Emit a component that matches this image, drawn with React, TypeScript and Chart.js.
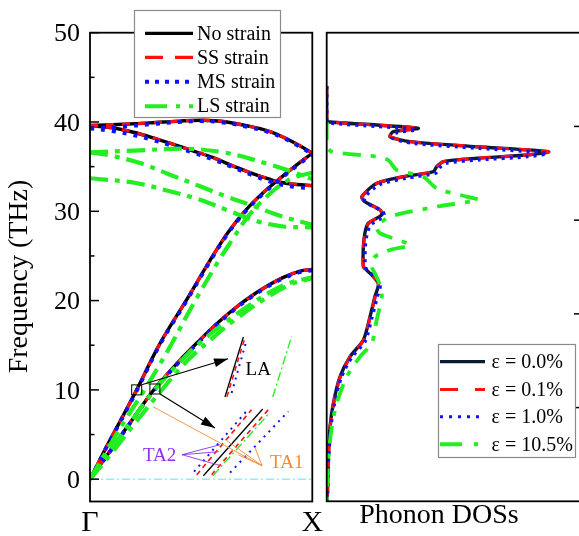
import React, { useEffect, useRef } from "react";
import { Chart, registerables } from "chart.js";

Chart.register(...registerables);

const SERIF = "'Liberation Serif','Times New Roman',Times,serif";
type P = [number, number];

// ---------- Left panel: dispersion along Γ → X (x = path fraction, y = THz)
const freqTicks = [0, 10, 20, 30, 40, 50];
const freqMinorTicks = [5, 15, 25, 35, 45];
const kLabels = ["Γ", "X"];
const kPositions = [0, 1];
const dispersionLegend = ["No strain", "SS strain", "MS strain", "LS strain"];
const freqTitle = "Frequency (THz)";

const noLA: P[] = [[0, 0], [0.04, 1.95], [0.08, 3.9], [0.14, 6.7], [0.21, 10], [0.315, 15.2], [0.435, 20.1], [0.54, 24.5], [0.62, 27.6], [0.7, 30.1], [0.78, 32.1], [0.86, 33.8], [0.93, 35.2], [1, 36.5]];
const noTA: P[] = [[0, 0], [0.1, 3.5], [0.2, 7.0], [0.29, 10.1], [0.4, 13.2], [0.495, 15.6], [0.57, 17.4], [0.645, 19.0], [0.72, 20.4], [0.795, 21.6], [0.87, 22.6], [0.945, 23.3], [1, 23.5]];
const noOptU: P[] = [[0, 39.6], [0.15, 39.75], [0.27, 39.9], [0.4, 40.1], [0.5, 40.2], [0.6, 40.05], [0.72, 39.5], [0.8, 39.0], [0.87, 38.3], [0.94, 37.4], [1, 36.5]];
const noOptL: P[] = [[0, 39.6], [0.1, 39.35], [0.195, 38.85], [0.28, 38.25], [0.375, 37.5], [0.46, 36.8], [0.555, 36.0], [0.65, 35.0], [0.735, 34.2], [0.8, 33.65], [0.855, 33.25], [0.93, 33.0], [1, 32.9]];

const ssLA: P[] = [[0, 0], [0.04, 1.95], [0.08, 3.9], [0.14, 6.7], [0.21, 10], [0.315, 15.2], [0.435, 20.1], [0.54, 24.5], [0.62, 27.6], [0.7, 30.1], [0.78, 32.1], [0.86, 33.8], [0.93, 35.2], [1, 36.5]];
const ssTA: P[] = [[0, 0], [0.1, 3.5], [0.2, 7.0], [0.29, 10.1], [0.4, 13.2], [0.495, 15.6], [0.57, 17.4], [0.645, 19.0], [0.72, 20.4], [0.795, 21.6], [0.87, 22.6], [0.945, 23.3], [1, 23.5]];
const ssOptU: P[] = [[0, 39.6], [0.15, 39.75], [0.27, 39.9], [0.4, 40.1], [0.5, 40.2], [0.6, 40.05], [0.72, 39.5], [0.8, 39.0], [0.87, 38.3], [0.94, 37.4], [1, 36.5]];
const ssOptL: P[] = [[0, 39.6], [0.1, 39.35], [0.195, 38.85], [0.28, 38.25], [0.375, 37.5], [0.46, 36.8], [0.555, 36.0], [0.65, 35.0], [0.735, 34.2], [0.8, 33.65], [0.855, 33.25], [0.93, 33.0], [1, 32.85]];

const msLA: P[] = [[0, 0], [0.04, 1.9], [0.08, 3.85], [0.14, 6.6], [0.21, 9.9], [0.315, 15.1], [0.435, 20.0], [0.54, 24.4], [0.62, 27.5], [0.7, 30.0], [0.78, 32.0], [0.86, 33.7], [0.93, 35.1], [1, 36.4]];
const msTA: P[] = [[0, 0], [0.1, 3.45], [0.2, 6.95], [0.29, 10.0], [0.4, 13.1], [0.495, 15.5], [0.57, 17.3], [0.645, 18.9], [0.72, 20.3], [0.795, 21.5], [0.87, 22.5], [0.945, 23.2], [1, 23.4]];
const msOptU: P[] = [[0, 39.3], [0.15, 39.5], [0.27, 39.75], [0.4, 40.0], [0.5, 40.1], [0.6, 39.95], [0.72, 39.4], [0.8, 38.9], [0.87, 38.2], [0.94, 37.3], [1, 36.4]];
const msOptL: P[] = [[0, 39.3], [0.1, 39.0], [0.195, 38.55], [0.28, 38.0], [0.375, 37.3], [0.46, 36.6], [0.555, 35.8], [0.65, 34.85], [0.735, 34.0], [0.8, 33.4], [0.855, 33.0], [0.93, 32.7], [1, 32.6]];

const lsLA: P[] = [[0, 0], [0.08, 3.4], [0.16, 6.7], [0.24, 9.8], [0.35, 14.4], [0.46, 19.4], [0.577, 24.4], [0.645, 27.0], [0.71, 29.4], [0.78, 31.3], [0.86, 33.0], [0.93, 33.9], [1, 34.3]];
const lsTA1: P[] = [[0, 0], [0.1, 3.5], [0.2, 7.0], [0.29, 10.0], [0.4, 13.0], [0.5, 15.4], [0.6, 17.4], [0.7, 19.2], [0.8, 20.8], [0.9, 22.0], [1, 22.6]];
const lsTA2: P[] = [[0, 0], [0.1, 3.0], [0.2, 6.2], [0.33, 10.2], [0.435, 13.2], [0.56, 16.0], [0.66, 18.0], [0.78, 20.1], [0.9, 21.8], [1, 22.5]];
const lsOpt1: P[] = [[0, 36.6], [0.2, 36.8], [0.44, 37.0], [0.6, 36.6], [0.72, 35.9], [0.8, 35.3], [0.9, 34.5], [1, 33.6]];
const lsOpt2: P[] = [[0, 36.6], [0.1, 36.2], [0.225, 35.4], [0.36, 34.1], [0.495, 32.8], [0.62, 31.6], [0.735, 30.6], [0.855, 29.5], [1, 28.5]];
const lsOpt3: P[] = [[0, 33.7], [0.2, 33.2], [0.35, 32.3], [0.495, 31.3], [0.62, 30.1], [0.75, 28.9], [0.87, 28.3], [1, 28.2]];
const zeroLine: P[] = [[0, 0], [1, 0]];

// zoomed insets (annotation segments in data coordinates)
const insetLABlack: P[] = [[0.607, 9.2], [0.69, 15.92]];
const insetLARed: P[] = [[0.616, 9.24], [0.697, 15.85]];
const insetLABlue: P[] = [[0.637, 9.65], [0.705, 15.62]];
const insetLAGreen: P[] = [[0.822, 9.2], [0.907, 15.99]];
const insetTABlack: P[] = [[0.51, 0.39], [0.777, 7.86]];
const insetTARed1: P[] = [[0.48, 0.5], [0.727, 7.78]];
const insetTARed2: P[] = [[0.547, 0.5], [0.802, 7.78]];
const insetTABlue1: P[] = [[0.468, 0.84], [0.702, 7.56]];
const insetTABlue2: P[] = [[0.63, 0.73], [0.892, 7.59]];
const insetTAGreen: P[] = [[0.553, 0.39], [0.8, 7.22]];
const zoomBoxes: P[] = [[0.21, 10.0], [0.292, 10.1]];
const arrowFrom: P[] = [[0.2326, 10.58], [0.315, 9.54]];
const arrowTo: P[] = [[0.621, 13.49], [0.562, 5.73]];
const ta1Origin: P = [0.774, 1.51];
const ta1Targets: P[] = [[0.283, 8.12], [0.742, 3.53], [0.666, 2.74], [0.616, 4.31]];
const ta2Origin: P = [0.414, 2.74];
const ta2Targets: P[] = [[0.585, 3.86], [0.58, 3.08], [0.589, 1.51]];
const insetLabels = ["LA", "TA1", "TA2"];
const insetLabelPos: P[] = [[0.757, 12.26], [0.885, 1.81], [0.313, 2.55]];

// ---------- Right panel: phonon DOS (x = DOS, arb. units; y = THz)
const dosLegend = ["ε = 0.0%", "ε = 0.1%", "ε = 1.0%", "ε = 10.5%"];
const dosTitle = "Phonon DOSs";
const dosRightTicks = [1, 2, 3, 4];

const dos00: P[] = [[0, 44], [0.0, 40.3], [0.006, 40.03], [0.195, 39.66], [0.357, 39.29], [0.26, 38.91], [0.247, 38.35], [0.325, 37.79], [0.585, 37.23], [0.865, 36.67], [0.78, 36.3], [0.585, 35.93], [0.455, 35.55], [0.429, 34.99], [0.416, 34.43], [0.299, 33.87], [0.195, 33.13], [0.137, 31.63], [0.149, 31.07], [0.208, 30.14], [0.215, 29.58], [0.162, 28.65], [0.149, 27.53], [0.143, 26.03], [0.143, 23.78], [0.156, 23.41], [0.201, 21.92], [0.188, 20.42], [0.169, 18.18], [0.143, 15.57], [0.091, 13.7], [0.052, 11.46], [0.026, 8.48], [0.013, 5.86], [0.006, 2.13], [0.003, -1.57], [0, -2.5]];
const dos01: P[] = [[0, 44], [0.0, 40.3], [0.006, 40.03], [0.195, 39.64], [0.355, 39.29], [0.26, 38.9], [0.248, 38.35], [0.327, 37.78], [0.587, 37.22], [0.865, 36.66], [0.78, 36.29], [0.585, 35.92], [0.455, 35.54], [0.43, 34.98], [0.417, 34.42], [0.3, 33.86], [0.196, 33.12], [0.138, 31.62], [0.15, 31.06], [0.209, 30.13], [0.216, 29.57], [0.163, 28.64], [0.15, 27.52], [0.144, 26.02], [0.144, 23.77], [0.157, 23.4], [0.202, 21.91], [0.189, 20.41], [0.17, 18.17], [0.144, 15.56], [0.092, 13.69], [0.053, 11.45], [0.027, 8.47], [0.014, 5.85], [0.006, 2.12], [0.003, -1.57], [0, -2.5]];
const dos10: P[] = [[0, 44], [0.0, 40.2], [0.008, 39.9], [0.2, 39.5], [0.35, 39.15], [0.268, 38.75], [0.256, 38.2], [0.335, 37.62], [0.595, 37.05], [0.86, 36.5], [0.785, 36.12], [0.595, 35.76], [0.465, 35.38], [0.438, 34.84], [0.425, 34.28], [0.31, 33.7], [0.205, 32.96], [0.145, 31.45], [0.158, 30.9], [0.218, 29.98], [0.224, 29.42], [0.172, 28.5], [0.157, 27.4], [0.15, 25.9], [0.151, 23.7], [0.164, 23.3], [0.208, 21.8], [0.196, 20.3], [0.176, 18.05], [0.15, 15.45], [0.097, 13.6], [0.057, 11.4], [0.03, 8.4], [0.016, 5.8], [0.007, 2.1], [0.003, -1.57], [0, -2.5]];
const dos105: P[] = [[0, 40.0], [0, 37.3], [0.02, 36.67], [0.195, 36.11], [0.24, 35.74], [0.273, 34.62], [0.377, 33.87], [0.429, 32.57], [0.546, 31.63], [0.592, 31.26], [0.429, 30.51], [0.247, 29.39], [0.195, 28.27], [0.208, 27.53], [0.325, 26.22], [0.247, 25.66], [0.188, 24.9], [0.176, 23.78], [0.188, 23.04], [0.208, 21.73], [0.215, 20.42], [0.195, 17.81], [0.176, 15.2], [0.13, 13.7], [0.078, 11.46], [0.039, 8.48], [0.02, 5.86], [0.006, 2.13], [0, -2.5]];

// ---------- styles
type Style = { color: string; width: number; dash: number[] };
const GREEN = "#22EE22";
const stNo: Style = { color: "#000000", width: 3.4, dash: [] };
const stSS: Style = { color: "#FF1010", width: 3.2, dash: [8, 8] };
const stMS: Style = { color: "#1010FF", width: 4, dash: [4, 7] };
const stLS: Style = { color: GREEN, width: 4.2, dash: [18, 7, 5, 7] };
const stZero: Style = { color: "#86F2F2", width: 1.5, dash: [8, 3, 2, 3] };
const stInBlack: Style = { color: "#000000", width: 1.3, dash: [] };
const stInRed: Style = { color: "#FF1010", width: 1.6, dash: [5, 4] };
const stInBlue: Style = { color: "#1010FF", width: 2, dash: [2, 5] };
const stInGreen: Style = { color: GREEN, width: 1.3, dash: [9, 3, 2, 3] };
const dispLegendStyles: Style[] = [
  { color: "#000000", width: 3.2, dash: [] },
  { color: "#FF1010", width: 3.2, dash: [18, 12] },
  { color: "#1010FF", width: 4, dash: [4, 6] },
  { color: GREEN, width: 4, dash: [22, 9, 4, 9] },
];
const stD00: Style = { color: "#0B1B36", width: 3.4, dash: [] };
const stD01: Style = { color: "#FF1010", width: 3.2, dash: [12, 10] };
const stD10: Style = { color: "#1010FF", width: 3.5, dash: [3, 5] };
const stD105: Style = { color: GREEN, width: 3.8, dash: [18, 10, 5, 10] };
const dosLegendStyles: Style[] = [
  { color: "#0B1B36", width: 3.2, dash: [] },
  { color: "#FF1010", width: 3.2, dash: [18, 17] },
  { color: "#1010FF", width: 3, dash: [3, 6] },
  { color: GREEN, width: 4, dash: [22, 12, 4, 12] },
];
const ORANGE = "#F28C3A";
const PURPLE = "#9030F0";

const ds = (label: string, data: P[], st: Style, order: number, tension = 0.35) => ({
  label,
  data: data.map(([x, y]) => ({ x, y })),
  borderColor: st.color,
  backgroundColor: st.color,
  borderWidth: st.width,
  borderDash: st.dash,
  pointRadius: 0,
  pointHoverRadius: 0,
  showLine: true,
  fill: false,
  tension,
  order,
});

function drawArrowHead(ctx: CanvasRenderingContext2D, x0: number, y0: number, x1: number, y1: number) {
  const ang = Math.atan2(y1 - y0, x1 - x0);
  const L = 14, W = 4.5;
  ctx.beginPath();
  ctx.moveTo(x1, y1);
  ctx.lineTo(x1 - L * Math.cos(ang) + W * Math.sin(ang), y1 - L * Math.sin(ang) - W * Math.cos(ang));
  ctx.lineTo(x1 - L * Math.cos(ang) - W * Math.sin(ang), y1 - L * Math.sin(ang) + W * Math.cos(ang));
  ctx.closePath();
  ctx.fill();
}

function drawLegend(
  ctx: CanvasRenderingContext2D,
  box: [number, number, number, number],
  labels: string[],
  styles: Style[],
  rowsY: number[],
  lineX: [number, number],
  textX: number,
  font: string
) {
  ctx.save();
  ctx.setLineDash([]);
  ctx.fillStyle = "#ffffff";
  ctx.fillRect(box[0], box[1], box[2], box[3]);
  ctx.strokeStyle = "#8a8a8a";
  ctx.lineWidth = 1.2;
  ctx.strokeRect(box[0], box[1], box[2], box[3]);
  labels.forEach((lab, i) => {
    const st = styles[i];
    ctx.strokeStyle = st.color;
    ctx.lineWidth = st.width;
    ctx.setLineDash(st.dash);
    ctx.beginPath();
    ctx.moveTo(lineX[0], rowsY[i]);
    ctx.lineTo(lineX[1], rowsY[i]);
    ctx.stroke();
    ctx.setLineDash([]);
    ctx.fillStyle = "#000";
    ctx.font = font;
    ctx.textAlign = "left";
    ctx.textBaseline = "middle";
    ctx.fillText(lab, textX, rowsY[i] + 1);
  });
  ctx.restore();
}

const leftDecor = {
  id: "leftDecor",
  afterDraw(chart: any) {
    const { ctx, chartArea: a, scales } = chart;
    const X = (v: number) => scales.x.getPixelForValue(v);
    const Y = (v: number) => scales.y.getPixelForValue(v);
    ctx.save();
    ctx.setLineDash([]);
    ctx.strokeStyle = "#000";
    ctx.lineWidth = 1;
    zoomBoxes.forEach(([x, y]) => ctx.strokeRect(X(x) - 5, Y(y) - 5, 10, 10));
    ctx.fillStyle = "#000";
    ctx.lineWidth = 1.2;
    arrowFrom.forEach((f, i) => {
      const t = arrowTo[i];
      ctx.beginPath();
      ctx.moveTo(X(f[0]), Y(f[1]));
      ctx.lineTo(X(t[0]), Y(t[1]));
      ctx.stroke();
      drawArrowHead(ctx, X(f[0]), Y(f[1]), X(t[0]), Y(t[1]));
    });
    ctx.lineWidth = 0.9;
    ctx.strokeStyle = ORANGE;
    ta1Targets.forEach((t) => {
      ctx.beginPath();
      ctx.moveTo(X(ta1Origin[0]), Y(ta1Origin[1]));
      ctx.lineTo(X(t[0]), Y(t[1]));
      ctx.stroke();
    });
    ctx.strokeStyle = PURPLE;
    ta2Targets.forEach((t) => {
      ctx.beginPath();
      ctx.moveTo(X(ta2Origin[0]), Y(ta2Origin[1]));
      ctx.lineTo(X(t[0]), Y(t[1]));
      ctx.stroke();
    });
    const labColors = ["#000", ORANGE, PURPLE];
    ctx.font = `19px ${SERIF}`;
    ctx.textAlign = "center";
    ctx.textBaseline = "middle";
    insetLabels.forEach((t, i) => {
      ctx.fillStyle = labColors[i];
      ctx.fillText(t, X(insetLabelPos[i][0]), Y(insetLabelPos[i][1]));
    });

    ctx.strokeStyle = "#000";
    ctx.lineWidth = 1.8;
    ctx.strokeRect(a.left, a.top, a.right - a.left, a.bottom - a.top);
    ctx.lineWidth = 1.5;
    freqTicks.forEach((v) => {
      ctx.beginPath();
      ctx.moveTo(a.left, Y(v));
      ctx.lineTo(a.left + 9, Y(v));
      ctx.stroke();
    });
    freqMinorTicks.forEach((v) => {
      ctx.beginPath();
      ctx.moveTo(a.left, Y(v));
      ctx.lineTo(a.left + 4.5, Y(v));
      ctx.stroke();
    });
    ctx.fillStyle = "#000";
    ctx.font = `26px ${SERIF}`;
    ctx.textAlign = "right";
    ctx.textBaseline = "alphabetic";
    freqTicks.forEach((v) => ctx.fillText(String(v), a.left - 10, Y(v) + 8.7));
    ctx.font = `30px ${SERIF}`;
    ctx.textAlign = "center";
    kLabels.forEach((t, i) => ctx.fillText(t, X(kPositions[i]), 531));
    ctx.save();
    ctx.translate(27, 276.5);
    ctx.rotate(-Math.PI / 2);
    ctx.font = `28px ${SERIF}`;
    ctx.textAlign = "center";
    ctx.textBaseline = "alphabetic";
    ctx.fillText(freqTitle, 0, 0);
    ctx.restore();
    drawLegend(ctx, [134.5, 10.5, 146, 107], dispersionLegend, dispLegendStyles, [33.3, 57.3, 81.7, 106.2], [145, 193], 197, `20px ${SERIF}`);
    ctx.restore();
  },
};

const rightDecor = {
  id: "rightDecor",
  afterDraw(chart: any) {
    const { ctx, chartArea: a, scales } = chart;
    ctx.save();
    ctx.setLineDash([]);
    ctx.strokeStyle = "#000";
    ctx.lineWidth = 1.8;
    ctx.strokeRect(a.left, a.top, a.right - a.left, a.bottom - a.top);
    ctx.lineWidth = 1.5;
    dosRightTicks.forEach((v) => {
      const y = scales.y2.getPixelForValue(v);
      ctx.beginPath();
      ctx.moveTo(a.right, y);
      ctx.lineTo(a.right - 9, y);
      ctx.stroke();
    });
    ctx.fillStyle = "#000";
    ctx.font = `28px ${SERIF}`;
    ctx.textAlign = "center";
    ctx.textBaseline = "alphabetic";
    ctx.fillText(dosTitle, 119, 523);
    drawLegend(ctx, [118.5, 344.5, 137, 113], dosLegend, dosLegendStyles, [361.7, 389.5, 416.7, 444.3], [120, 165], 171.5, `20px ${SERIF}`);
    ctx.restore();
  },
};

const baseOptions = (padding: any, extraScales: any = {}) => ({
  animation: false as const,
  responsive: false,
  devicePixelRatio: 1,
  events: [] as any[],
  layout: { padding },
  plugins: { legend: { display: false }, tooltip: { enabled: false }, title: { display: false } },
  scales: {
    x: { type: "linear" as const, min: 0, max: 1, display: false },
    y: { type: "linear" as const, min: -2.5, max: 50, display: false },
    ...extraScales,
  },
});

export default function App() {
  const leftRef = useRef<HTMLCanvasElement>(null);
  const rightRef = useRef<HTMLCanvasElement>(null);

  useEffect(() => {
    const left = new Chart(leftRef.current as HTMLCanvasElement, {
      type: "scatter",
      data: {
        datasets: [
          ds("zero", zeroLine, stZero, 60, 0),
          ds("No strain LA", noLA, stNo, 40),
          ds("No strain TA", noTA, stNo, 40),
          ds("No strain O1", noOptU, stNo, 40),
          ds("No strain O2", noOptL, stNo, 40),
          ds("SS strain LA", ssLA, stSS, 30),
          ds("SS strain TA", ssTA, stSS, 30),
          ds("SS strain O1", ssOptU, stSS, 30),
          ds("SS strain O2", ssOptL, stSS, 30),
          ds("MS strain LA", msLA, stMS, 20),
          ds("MS strain TA", msTA, stMS, 20),
          ds("MS strain O1", msOptU, stMS, 20),
          ds("MS strain O2", msOptL, stMS, 20),
          ds("LS strain LA", lsLA, stLS, 10),
          ds("LS strain TA1", lsTA1, stLS, 10),
          ds("LS strain TA2", lsTA2, stLS, 10),
          ds("LS strain O1", lsOpt1, stLS, 10),
          ds("LS strain O2", lsOpt2, stLS, 10),
          ds("LS strain O3", lsOpt3, stLS, 10),
          ds("inset LA black", insetLABlack, stInBlack, 5, 0),
          ds("inset LA red", insetLARed, stInRed, 4, 0),
          ds("inset LA blue", insetLABlue, stInBlue, 3, 0),
          ds("inset LA green", insetLAGreen, stInGreen, 2, 0),
          ds("inset TA black", insetTABlack, stInBlack, 5, 0),
          ds("inset TA red1", insetTARed1, stInRed, 4, 0),
          ds("inset TA red2", insetTARed2, stInRed, 4, 0),
          ds("inset TA blue1", insetTABlue1, stInBlue, 3, 0),
          ds("inset TA blue2", insetTABlue2, stInBlue, 3, 0),
          ds("inset TA green", insetTAGreen, stInGreen, 2, 0),
        ],
      },
      options: baseOptions({ left: 90, top: 32.7, right: 330 - 312.3, bottom: 536 - 501.5 }) as any,
      plugins: [leftDecor],
    });

    const right = new Chart(rightRef.current as HTMLCanvasElement, {
      type: "scatter",
      data: {
        datasets: [
          ds(dosLegend[0], dos00, stD00, 40, 0.25),
          ds(dosLegend[1], dos01, stD01, 30, 0.25),
          ds(dosLegend[2], dos10, stD10, 20, 0.25),
          ds(dosLegend[3], dos105, stD105, 10, 0.25),
        ],
      },
      options: baseOptions(
        { left: 6.7, top: 32.7, right: 2, bottom: 536 - 501.3 },
        { y2: { type: "linear", position: "right", min: 0, max: 5, display: false } }
      ) as any,
      plugins: [rightDecor],
    });

    return () => {
      left.destroy();
      right.destroy();
    };
  }, []);

  return (
    <div style={{ position: "fixed", left: 0, top: 0, width: 579, height: 536, overflow: "hidden", background: "#fff" }}>
      <canvas ref={leftRef} width={330} height={536} style={{ position: "absolute", left: 0, top: 0, width: 330, height: 536 }} />
      <canvas ref={rightRef} width={265} height={536} style={{ position: "absolute", left: 320, top: 0, width: 265, height: 536 }} />
    </div>
  );
}
